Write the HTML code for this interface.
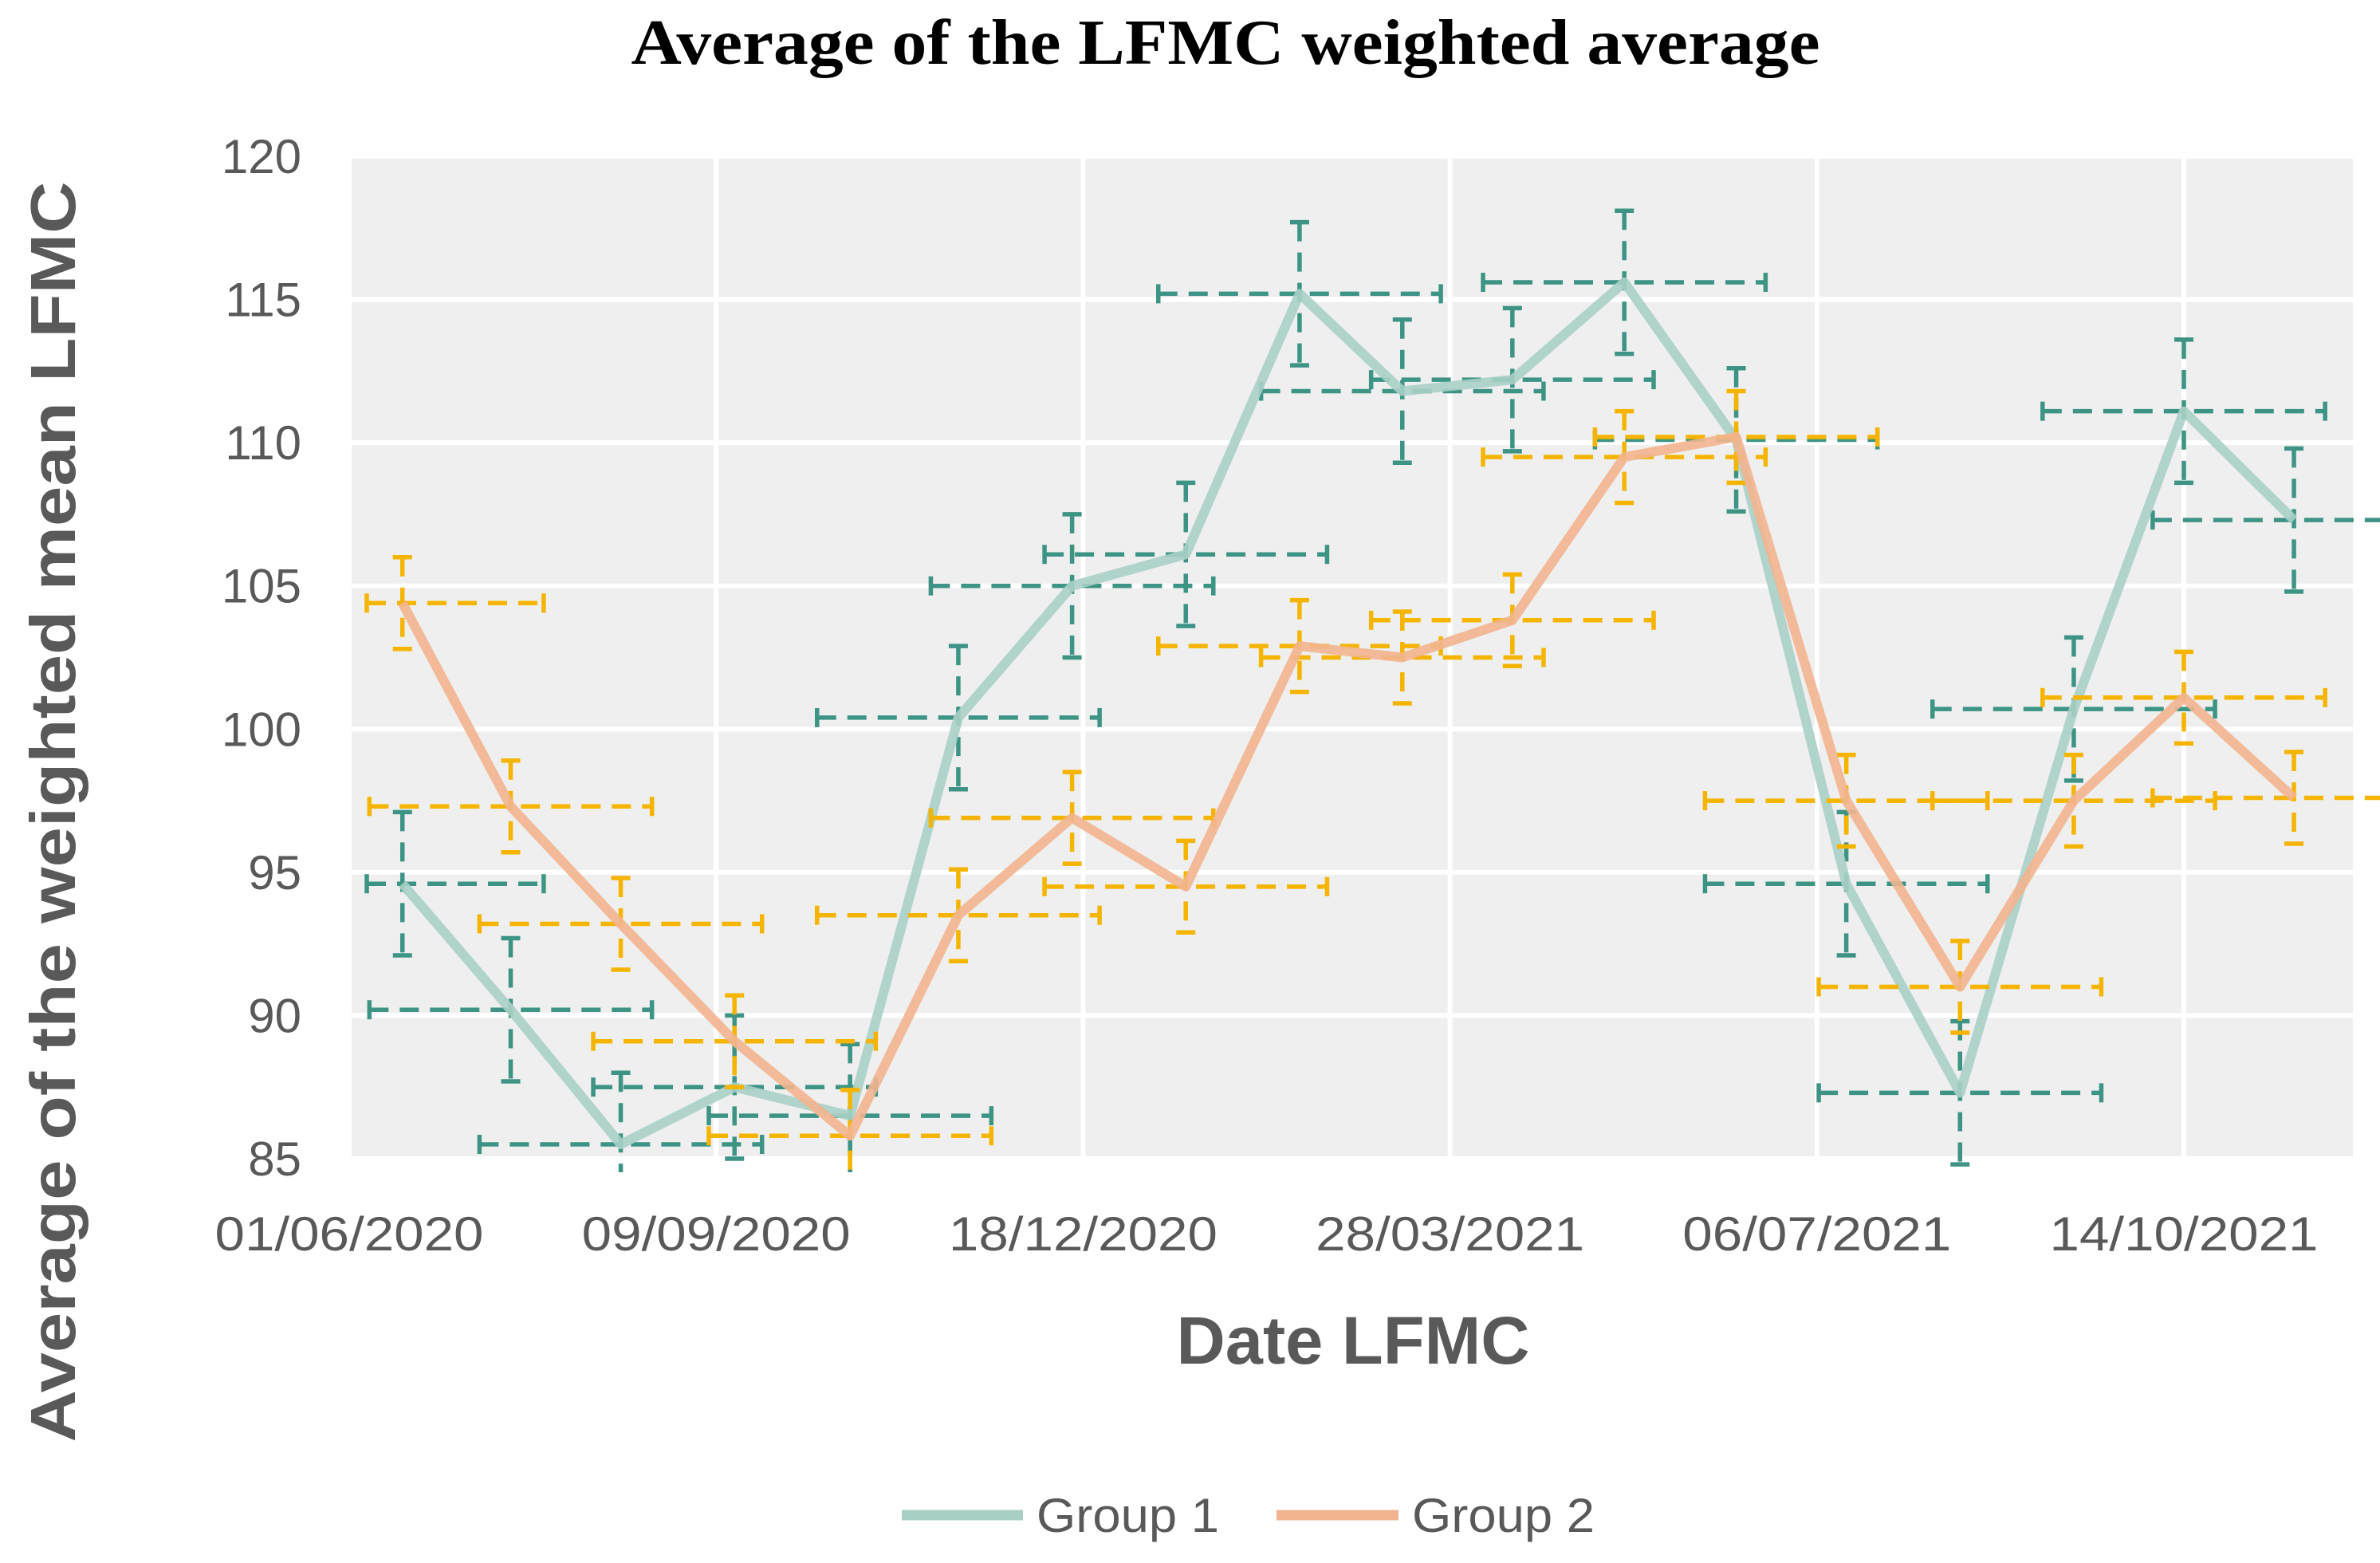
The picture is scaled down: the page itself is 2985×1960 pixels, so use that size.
<!DOCTYPE html>
<html><head><meta charset="utf-8"><style>
html,body{margin:0;padding:0;background:#fff;width:2985px;height:1960px;overflow:hidden}
svg{display:block}
</style></head><body>
<svg id="chart" xmlns="http://www.w3.org/2000/svg" width="2985" height="1960" viewBox="0 0 2985 1960">
<rect x="438" y="196" width="2513" height="1257" fill="#efefef"/>
<g id="grid"></g>
<g id="yticks" font-family="Liberation Sans, sans-serif" font-size="60" fill="#595959" text-anchor="end"></g>
<g id="xticks" font-family="Liberation Sans, sans-serif" font-size="60" fill="#595959" text-anchor="middle"></g>
<defs><clipPath id="pc"><rect x="438" y="150" width="2547" height="1320"/></clipPath></defs>
<g id="marks" clip-path="url(#pc)"></g>
<text x="1537" y="80" text-anchor="middle" font-family="Liberation Serif, serif" font-weight="bold" font-size="80" textLength="1491" lengthAdjust="spacingAndGlyphs">Average of the LFMC weighted average</text>
<text transform="translate(94,1018) rotate(-90)" text-anchor="middle" font-family="Liberation Sans, sans-serif" font-weight="bold" font-size="80" fill="#595959" textLength="1581" lengthAdjust="spacingAndGlyphs">Average of the  weighted mean LFMC</text>
<text x="1697" y="1710" text-anchor="middle" font-family="Liberation Sans, sans-serif" font-weight="bold" font-size="84" fill="#595959" textLength="443" lengthAdjust="spacingAndGlyphs">Date LFMC</text>
<g>
<line x1="1131" y1="1900" x2="1283" y2="1900" stroke="#a8cfc6" stroke-width="13"/>
<text x="1300" y="1921" font-family="Liberation Sans, sans-serif" font-size="60" fill="#595959" textLength="229" lengthAdjust="spacingAndGlyphs">Group 1</text>
<line x1="1601" y1="1900" x2="1754" y2="1900" stroke="#f2b48e" stroke-width="13"/>
<text x="1771" y="1921" font-family="Liberation Sans, sans-serif" font-size="60" fill="#595959" textLength="229" lengthAdjust="spacingAndGlyphs">Group 2</text>
</g>
</svg>
<script>
const days = [14.5,44,74,105,136.5,166,197,228,259,287,317,347.5,378,408,439,470,500,530];
const group1 = [94.6,90.2,85.5,87.5,86.5,100.4,105,106.1,115.2,111.8,112.2,115.6,110.1,94.6,87.3,100.7,111.1,107.3];
const group2 = [104.4,97.3,93.2,89.1,85.8,93.5,96.9,94.5,102.9,102.5,103.8,109.5,110.2,97.5,91.0,97.5,101.1,97.6];
const group1YErr = [2.5,2.5,2.5,2.5,2.5,2.5,2.5,2.5,2.5,2.5,2.5,2.5,2.5,2.5,2.5,2.5,2.5,2.5];
const group2YErr = [1.6,1.6,1.6,1.6,1.6,1.6,1.6,1.6,1.6,1.6,1.6,1.6,1.6,1.6,1.6,1.6,1.6,1.6];
const xErrDays = 38.5;
const yTicks = [85,90,95,100,105,110,115,120];
const xTickDays = [0,100,200,300,400,500];
const xTickLabels = ['01/06/2020','09/09/2020','18/12/2020','28/03/2021','06/07/2021','14/10/2021'];

const NS='http://www.w3.org/2000/svg';
const L=438,R=2951,T=196,B=1453;
const xS=d=>L+d*4.602;
const yS=v=>B-(v-85)*(B-T)/35;
function mk(tag,attrs,parent){const e=document.createElementNS(NS,tag);for(const k in attrs)e.setAttribute(k,attrs[k]);parent.appendChild(e);return e;}
const grid=document.getElementById('grid'),yt=document.getElementById('yticks'),xt=document.getElementById('xticks'),marks=document.getElementById('marks');
yTicks.forEach(v=>{
  const g=mk('line',{x1:L,x2:R,y1:yS(v),y2:yS(v),stroke:'#fff','stroke-width':6},grid);
  
  
  const t=mk('text',{x:378,y:yS(v)+21},yt);t.textContent=v;
  
  
});
xTickDays.forEach((d,i)=>{
  const g=mk('line',{x1:xS(d),x2:xS(d),y1:T,y2:B,stroke:'#fff','stroke-width':6},grid);
  
  
  const t=mk('text',{x:xS(d),y:1568,textLength:337,lengthAdjust:'spacingAndGlyphs'},xt);t.textContent=xTickLabels[i];
  
  
});
function series(vals,yerr,lineCol,errCol,name){
  const g=mk('g',{},marks);
  
  
  const eg=mk('g',{stroke:errCol,'stroke-width':5.5,fill:'none'},g);
  
  
  const pts=days.map((d,i)=>[xS(d),yS(vals[i])]);
  const pl=mk('polyline',{points:pts.map(p=>p.join(',')).join(' '),fill:'none',stroke:lineCol,'stroke-width':12,'stroke-linejoin':'round','stroke-opacity':0.9},g);
  
  
  days.forEach((d,i)=>{
    const x=xS(d),y=yS(vals[i]);
    const y1=yS(vals[i]+yerr[i]),y2=yS(vals[i]-yerr[i]);
    const x1=Math.max(xS(d-xErrDays),L+22),x2=xS(d+xErrDays);
    mk('line',{x1:x,x2:x,y1:y1,y2:y2,'stroke-dasharray':'24 14'},eg);
    mk('line',{x1:x-12,x2:x+12,y1:y1,y2:y1},eg);
    mk('line',{x1:x-12,x2:x+12,y1:y2,y2:y2},eg);
    mk('line',{x1:x1,x2:x2,y1:y,y2:y,'stroke-dasharray':'24 14'},eg);
    mk('line',{x1:x1,x2:x1,y1:y-12,y2:y+12},eg);
    mk('line',{x1:x2,x2:x2,y1:y-12,y2:y+12},eg);
  });
}
series(group1,group1YErr,'#a8cfc6','#3d9485','group-1');
series(group2,group2YErr,'#f2b48e','#f5b400','group-2');
</script>
</body></html>
